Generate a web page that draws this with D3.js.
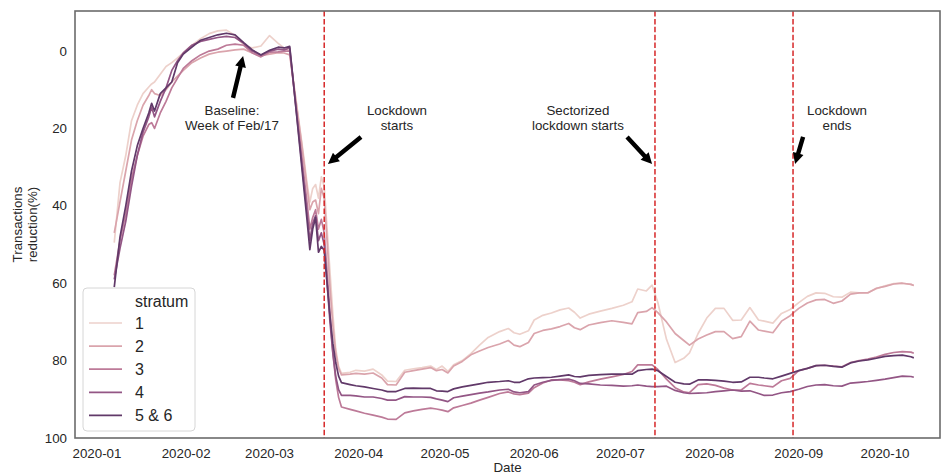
<!DOCTYPE html>
<html>
<head>
<meta charset="utf-8">
<script src="https://cdn.jsdelivr.net/npm/d3@7"></script>
<style>
  html, body { margin: 0; padding: 0; background: #fff; }
  svg { display: block; font-family: "Liberation Sans", Arial, sans-serif; }
</style>
</head>
<body>
<svg id="chart" width="941" height="474"></svg>
<script>
// Sample dates shared by every stratum
const dates = [
  "2020-01-07","2020-01-09","2020-01-11","2020-01-13","2020-01-15","2020-01-17","2020-01-19","2020-01-20",
  "2020-01-21","2020-01-23","2020-01-25","2020-01-27","2020-01-29","2020-01-31","2020-02-03","2020-02-06",
  "2020-02-09","2020-02-12","2020-02-15","2020-02-18","2020-02-21","2020-02-24","2020-02-27","2020-03-01",
  "2020-03-04","2020-03-06","2020-03-08",
  "2020-03-09","2020-03-10","2020-03-11","2020-03-12","2020-03-13","2020-03-14","2020-03-15","2020-03-16",
  "2020-03-17","2020-03-18","2020-03-19","2020-03-20","2020-03-21","2020-03-22","2020-03-23","2020-03-24",
  "2020-03-25","2020-03-26",
  "2020-03-29","2020-03-31","2020-04-03","2020-04-06","2020-04-09","2020-04-11","2020-04-14","2020-04-17",
  "2020-04-20","2020-04-23","2020-04-26","2020-04-28","2020-04-30","2020-05-02","2020-05-04","2020-05-07",
  "2020-05-10","2020-05-13","2020-05-16","2020-05-20","2020-05-23","2020-05-25","2020-05-27","2020-05-30",
  "2020-06-01","2020-06-04","2020-06-07","2020-06-10","2020-06-13","2020-06-15","2020-06-17","2020-06-20",
  "2020-06-24","2020-06-28","2020-07-02","2020-07-05","2020-07-07","2020-07-10","2020-07-12","2020-07-14",
  "2020-07-17","2020-07-20","2020-07-23","2020-07-25","2020-07-28","2020-07-31","2020-08-03","2020-08-06",
  "2020-08-09","2020-08-12","2020-08-15","2020-08-18","2020-08-20","2020-08-23","2020-08-26","2020-08-29",
  "2020-09-01","2020-09-04","2020-09-07","2020-09-10","2020-09-13","2020-09-16","2020-09-19","2020-09-22",
  "2020-09-25","2020-09-28","2020-10-01","2020-10-04","2020-10-07","2020-10-10","2020-10-11"
];

// Transactions reduction (%) per stratum
const stratum1 = [
  49.5,34,27,18,14,11,9.3,8.5,8,6,4,3,1.8,0.5,-1.5,-3.2,-4.5,-5.2,-5.4,-4,-1.6,-0.8,-1.3,-4,-2,-0.8,0,
  6,11.5,17,22.5,28,34,39,35.5,34.5,38,32.5,35,46,57,68,77,81.5,83.3,
  83,82.5,82.7,82.2,83.7,85.3,85.4,82.5,82.1,81.8,81.4,82.3,81.4,82.8,81.1,80,78.2,76,74,72.5,71.7,72.8,73.2,72.3,
  69.5,68.3,67.7,66.9,66.4,67.5,69,68,67.2,66.5,65.7,64.8,61.5,62,60.5,65,74.5,80.5,79.4,78,73,69,66.5,
  66.5,69.6,69.5,66.3,69.5,69.8,70.3,67.8,66.8,65,63.4,62.5,62.6,63.5,63.6,62.3,62.5,62.4,61.4,60.7,60.1,60,60.3,60.6
];
const stratum2 = [
  47,39,31,23,18,14,11.5,10,11,11.5,10,8,6.5,5,3,1.8,0.8,0.3,0,-0.3,-0.5,0.5,1.2,0.8,0.4,0.5,1,
  6.5,12,17.5,23,29,35,41,39,38.5,42,35.5,38,49,61,71,78,82,83.7,
  83.5,83.3,83.5,83.2,84.5,86.2,86.3,83,82.6,82.2,81.8,82.6,82.3,83.2,81.4,80.2,78.5,77.5,76.6,75.7,74.8,76,76.4,75.3,
  73,72.2,71.8,71.2,70.4,71.5,72,70.8,70.2,69.7,70.1,70.5,67.6,67.3,66.3,67.6,70,73,74.8,76,74.4,73.4,72.5,
  72.5,74.3,73.8,69.8,72.1,72.4,72.8,69.8,68.4,66.5,65.1,64.3,64.2,65.2,64.6,62.8,62.5,62.5,61.3,60.8,60.2,60,60.3,60.6
];
const stratum3 = [
  58,49,42,33,27,22,19,18.5,20,16,13,9.5,7,4.5,2.5,1,0,-0.5,-1.5,-1.8,-1.5,0.5,1.5,0.3,0.2,0,0,
  6.5,13,19.5,26,32.5,39,46,43,41,46,43.5,47,57,68,78,85,89.5,92,
  92.6,93,93.6,94.1,94.6,95.1,95.2,93.5,93,92.6,92.3,92.5,92.8,93.2,92.2,91.6,91,90.2,89.5,88.5,88.1,88.6,88.8,88.4,
  87,85.8,85,85,85.2,85.6,86.2,85.5,84.8,84.2,83.6,82.8,81.1,81.1,81.1,82.3,84.8,87,88.1,88.3,86.2,86,86.4,
  87.1,87.6,87.6,85.9,86.3,86.5,86.8,85.2,84.6,82.6,82,81.3,81.2,81.4,81.6,80.5,80,79.6,79.1,78.4,77.9,77.7,77.8,78.1
];
const stratum4 = [
  59,51,44,35,27,21,17,14.5,17,13,9.5,5,2.5,0.5,-1.5,-2.5,-3,-3.5,-3.8,-3.5,-2,0,1,0,-0.5,-0.3,-0.8,
  6.3,13.5,20.5,27.5,34.5,41.5,49,44.5,42.5,49,47,50,60,70,78,84,87.5,89,
  89,89.1,89.4,89.4,89.8,90.2,90.2,89.3,89.4,89.4,89.5,89.9,90.2,90.6,89.6,89.2,88.8,88.4,88.1,87.6,87.4,88.1,88.3,88,
  86.3,85.6,85.1,84.9,84.8,85.2,85.9,86,86.3,86.4,86.6,86.5,86.3,86.6,86.7,86.7,86.6,87.7,88.3,88.5,88.4,88.3,88,
  87.8,87.6,87.9,87.8,88.5,89,88.9,88.3,88,87.4,86.7,86.3,86.2,86.5,86.6,85.8,85.6,85.4,85.1,84.8,84.4,84,84.1,84.3
];
const stratum56 = [
  61,48,40,31,24.5,20,16,13.5,15.5,11,9.5,8,3,0.8,-1,-2.8,-3.5,-4.2,-4.6,-4.2,-2.2,-0.3,1,-0.2,-1,-0.8,-1.2,
  6,13.5,21,28.5,36,43.5,51.3,46,43,52,50.5,51.5,60,68.5,75.5,80.5,84,85.7,
  86.2,86.5,86.8,87.2,87.6,88,88,87.2,87.1,87.2,87.2,87.8,87.9,88,87.3,86.8,86.4,86,85.6,85.4,85.2,85.6,85.6,84.7,
  84.5,84.4,84.3,84,83.7,84.1,84.2,83.8,83.6,83.5,83.5,83.5,82.6,82.3,82.2,82.6,84.1,85.6,86,86.1,85,85,85.1,
  85.3,85.6,85.5,84.3,84.3,84.5,84.7,84,83.3,82.6,82,81.3,81.2,81.5,81.7,80.6,80.1,79.8,79.4,78.9,78.7,78.6,79,79.3
];

const strata = ["1", "2", "3", "4", "5 & 6"];
const seriesValues = [stratum1, stratum2, stratum3, stratum4, stratum56];
const palette = ["#edd1cb", "#daa4ac", "#bd7a98", "#935685", "#613969"];

const yTicks = [0, 20, 40, 60, 80, 100];

// Policy milestones (dashed lines)
const eventDates = ["2020-03-20", "2020-07-13", "2020-08-30"];

// Annotation texts with their text anchor, arrow tail and arrow tip (date, value)
const noteLabels = [["Baseline:", "Week of Feb/17"], ["Lockdown", "starts"],
                    ["Sectorized", "lockdown starts"], ["Lockdown", "ends"]];
const noteTextAt = [["2020-02-16T22:00", 16.5], ["2020-04-14T07:00", 16.5],
                    ["2020-06-16T05:00", 16.5], ["2020-09-14T07:00", 16.5]];
const noteTail = [["2020-02-17T07:00", 12.1], ["2020-04-01T19:00", 22.2],
                  ["2020-07-03T07:00", 22.2], ["2020-09-02T12:00", 22.2]];
const noteTip = [["2020-02-20T19:00", 1.3], ["2020-03-21T07:00", 29.2],
                 ["2020-07-12T00:00", 29.2], ["2020-08-30T17:00", 29.2]];

// ---------------------------------------------------------------
const svg = d3.select("#chart");
const plotL = 75, plotR = 940, plotT = 11, plotB = 438;
const parseDay = d3.utcParse("%Y-%m-%d");
const parseStamp = d3.utcParse("%Y-%m-%dT%H:%M");
const parseTime = s => s.length > 10 ? parseStamp(s) : parseDay(s);

const x = d3.scaleUtc()
  .domain([new Date(Date.UTC(2019, 11, 24, 8, 24)), new Date(Date.UTC(2020, 9, 20, 2, 24))])
  .range([plotL, plotR]);
const y = d3.scaleLinear().domain([-10.35, 100]).range([plotT, plotB]);

const textColor = "#262626";

// Series lines
const line = d3.line()
  .x((d, i) => x(parseDay(dates[i])))
  .y(d => y(d));

const plot = svg.append("g");
seriesValues.forEach((vals, k) => {
  plot.append("path")
    .datum(vals)
    .attr("d", line)
    .attr("fill", "none")
    .attr("stroke", palette[k])
    .attr("stroke-width", 1.7)
    .attr("stroke-linejoin", "round");
});

// Vertical dashed event lines
svg.append("g").selectAll("line")
  .data(eventDates)
  .join("line")
  .attr("x1", d => x(parseDay(d))).attr("x2", d => x(parseDay(d)))
  .attr("y1", plotT).attr("y2", plotB)
  .attr("stroke", "#d62728")
  .attr("stroke-width", 1.5)
  .attr("stroke-dasharray", "5.5,2.4");

// Frame
svg.append("rect")
  .attr("x", plotL).attr("y", plotT)
  .attr("width", plotR - plotL).attr("height", plotB - plotT)
  .attr("fill", "none").attr("stroke", "#6b6b6b").attr("stroke-width", 1.6);

// Y tick labels
svg.append("g").selectAll("text")
  .data(yTicks)
  .join("text")
  .attr("x", 67).attr("y", d => y(d)).attr("dy", "0.35em")
  .attr("text-anchor", "end")
  .attr("font-size", 13.33).attr("fill", textColor)
  .text(d => d);

// X tick labels
const monthFmt = d3.utcFormat("%Y-%m");
svg.append("g").selectAll("text")
  .data(x.ticks(d3.utcMonth.every(1)))
  .join("text")
  .attr("x", d => x(d)).attr("y", 458)
  .attr("text-anchor", "middle")
  .attr("font-size", 13.33).attr("fill", textColor)
  .text(d => monthFmt(d));

// Axis titles
svg.append("text")
  .attr("x", (plotL + plotR) / 2).attr("y", 472)
  .attr("text-anchor", "middle")
  .attr("font-size", 13.33).attr("fill", textColor)
  .text("Date");

const yTitle = svg.append("text")
  .attr("transform", `translate(24.5, ${(plotT + plotB) / 2}) rotate(-90)`)
  .attr("text-anchor", "middle")
  .attr("font-size", 13.33).attr("fill", textColor);
yTitle.append("tspan").attr("x", 0).attr("y", -2.5).text("Transactions");
yTitle.append("tspan").attr("x", 0).attr("y", 12.5).text("reduction(%)");

// Annotations with block arrows
function arrowPath(x1, y1, x2, y2) {
  const dx = x2 - x1, dy = y2 - y1;
  const len = Math.hypot(dx, dy);
  const ux = dx / len, uy = dy / len;
  const nx = -uy, ny = ux;
  const shaft = 2.2, head = 5.5, headLen = 11;
  const bx = x2 - ux * headLen, by = y2 - uy * headLen;
  const pts = [
    [x1 + nx * shaft, y1 + ny * shaft],
    [bx + nx * shaft, by + ny * shaft],
    [bx + nx * head, by + ny * head],
    [x2, y2],
    [bx - nx * head, by - ny * head],
    [bx - nx * shaft, by - ny * shaft],
    [x1 - nx * shaft, y1 - ny * shaft]
  ];
  return "M" + pts.map(p => p.join(",")).join("L") + "Z";
}

const notes = svg.append("g");
noteLabels.forEach((lines, i) => {
  const tx = x(parseTime(noteTextAt[i][0])), ty = y(noteTextAt[i][1]);
  const t = notes.append("text")
    .attr("text-anchor", "middle")
    .attr("font-size", 13.33).attr("fill", textColor);
  lines.forEach((s, j) => {
    t.append("tspan").attr("x", tx).attr("y", ty + j * 15.5).text(s);
  });
  notes.append("path")
    .attr("d", arrowPath(
      x(parseTime(noteTail[i][0])), y(noteTail[i][1]),
      x(parseTime(noteTip[i][0])), y(noteTip[i][1])))
    .attr("fill", "#000");
});

// Legend
const lg = svg.append("g");
lg.append("rect")
  .attr("x", 83).attr("y", 288).attr("width", 112).attr("height", 143)
  .attr("rx", 4).attr("ry", 4)
  .attr("fill", "#fff").attr("fill-opacity", 0.8)
  .attr("stroke", "#d6d6d6").attr("stroke-width", 1);
lg.append("text")
  .attr("x", 135).attr("y", 301).attr("dy", "0.35em")
  .attr("font-size", 16).attr("fill", textColor)
  .text("stratum");
strata.forEach((name, k) => {
  const cy = 323 + k * 23.1;
  lg.append("line")
    .attr("x1", 89).attr("x2", 122).attr("y1", cy).attr("y2", cy)
    .attr("stroke", palette[k]).attr("stroke-width", 1.7);
  lg.append("text")
    .attr("x", 135).attr("y", cy).attr("dy", "0.35em")
    .attr("font-size", 16).attr("fill", textColor)
    .text(name);
});
</script>
</body>
</html>
